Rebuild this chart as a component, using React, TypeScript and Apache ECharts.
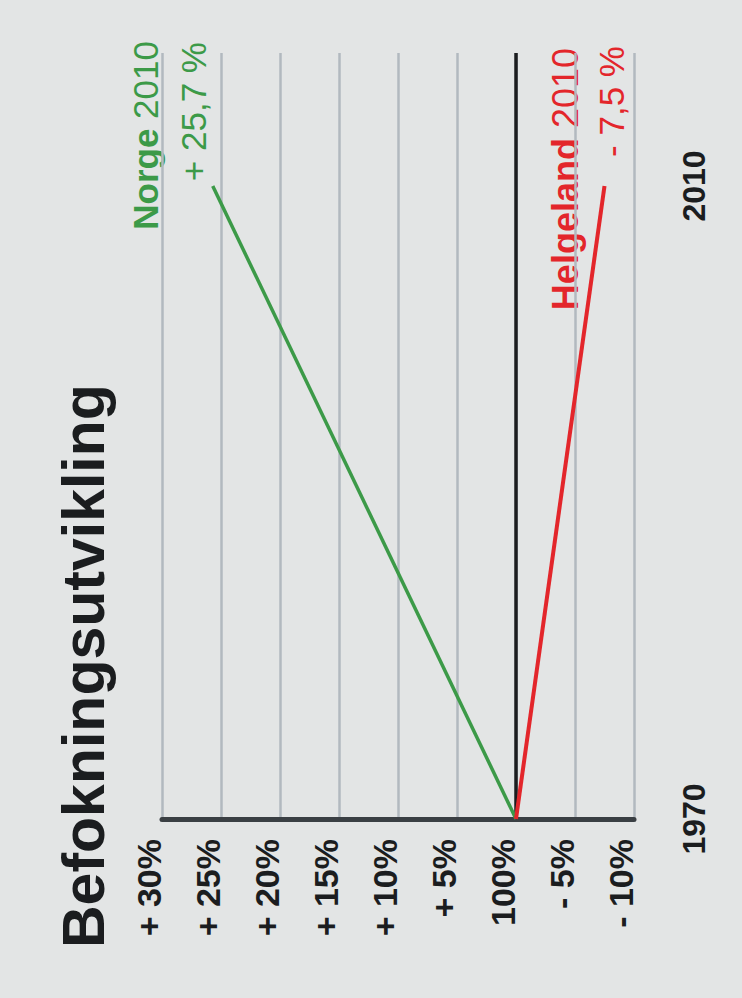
import React, { useEffect, useRef } from "react";
import * as echarts from "echarts";

// ---- data ----
const titleText = "Befokningsutvikling";
const years = [1970, 2010];
const norgeValues = [0, 25.7];
const helgelandValues = [0, -7.5];
const percentMin = -10;
const percentMax = 30;
const percentStep = 5;
const norgeLabel = ["Norge", "2010"];
const norgeChange = "+ 25,7 %";
const helgelandLabel = ["Helgeland", "2010"];
const helgelandChange = "- 7,5 %";

const FONT = '"Liberation Sans", Arial, Helvetica, sans-serif';
const GREEN = "#3c9a48";
const RED = "#e3262b";
const INK = "#1b1d1f";

function pctLabel(v: number): string {
  if (v > 0) return "+ " + v + "%";
  if (v === 0) return "100%";
  return "- " + -v + "%";
}

export default function App() {
  const ref = useRef<HTMLDivElement>(null);
  useEffect(() => {
    document.body.style.margin = "0";
    const chart = echarts.init(ref.current!, null, { renderer: "svg" });
    const option: any = {
      animation: false,
      backgroundColor: "#e3e5e5",
      grid: {
        left: 162,
        right: 108,
        top: 53,
        bottom: 179,
        containLabel: false,
        outerBoundsMode: "none",
      },
      xAxis: {
        type: "value",
        inverse: true,
        min: percentMin,
        max: percentMax,
        interval: percentStep,
        axisLine: { show: true, lineStyle: { color: "#3a3f43", width: 5 } },
        axisTick: { show: false },
        splitLine: { show: true, lineStyle: { color: "#b2b9bf", width: 2.5 } },
        axisLabel: {
          rotate: 90,
          margin: 20,
          verticalAlign: "bottom",
          lineHeight: 26,
          color: INK,
          fontFamily: FONT,
          fontWeight: "bold",
          fontSize: 34,
          formatter: (v: number) => pctLabel(v),
        },
      },
      yAxis: {
        type: "value",
        position: "right",
        min: 1970,
        max: 2018.4,
        interval: 10,
        axisLine: { show: false },
        axisTick: { show: false },
        splitLine: { show: false },
        axisLabel: {
          rotate: 90,
          margin: 44,
          color: INK,
          fontFamily: FONT,
          fontWeight: "bold",
          fontSize: 32,
          showMaxLabel: false,
          formatter: (v: number) => (years.indexOf(v) >= 0 ? String(v) : ""),
        },
      },
      series: [
        {
          name: "Norge",
          type: "line",
          data: years.map((y, i) => [norgeValues[i], y]),
          showSymbol: false,
          symbol: "none",
          lineStyle: { color: GREEN, width: 3.5 },
          z: 5,
          markLine: {
            silent: true,
            symbol: "none",
            label: { show: false },
            lineStyle: { color: INK, width: 3.5, type: "solid" },
            data: [{ xAxis: 0 }],
            z: 1,
          },
        },
        {
          name: "Helgeland",
          type: "line",
          data: years.map((y, i) => [helgelandValues[i], y]),
          showSymbol: false,
          symbol: "none",
          lineStyle: { color: RED, width: 4 },
          z: 6,
        },
      ],
      graphic: [
        {
          type: "text",
          x: 84,
          y: 948,
          rotation: Math.PI / 2,
          style: {
            text: titleText,
            fill: INK,
            fontFamily: FONT,
            fontWeight: "bold",
            fontSize: 59,
            align: "left",
            verticalAlign: "middle",
          },
        },
        {
          type: "text",
          x: 145,
          y: 41,
          rotation: Math.PI / 2,
          style: {
            text: "{b|" + norgeLabel[0] + "} {r|" + norgeLabel[1] + "}",
            fill: GREEN,
            fontFamily: FONT,
            fontSize: 35,
            align: "right",
            verticalAlign: "middle",
            rich: {
              b: { fill: GREEN, fontFamily: FONT, fontSize: 35, fontWeight: "bold" },
              r: { fill: GREEN, fontFamily: FONT, fontSize: 35, fontWeight: "normal" },
            },
          },
        },
        {
          type: "text",
          x: 193,
          y: 42,
          rotation: Math.PI / 2,
          style: {
            text: norgeChange,
            fill: GREEN,
            fontFamily: FONT,
            fontSize: 35,
            fontWeight: "normal",
            align: "right",
            verticalAlign: "middle",
          },
        },
        {
          type: "text",
          x: 565,
          y: 48,
          rotation: Math.PI / 2,
          style: {
            text: "{b|" + helgelandLabel[0] + "} {r|" + helgelandLabel[1] + "}",
            fill: RED,
            fontFamily: FONT,
            fontSize: 36,
            align: "right",
            verticalAlign: "middle",
            rich: {
              b: { fill: RED, fontFamily: FONT, fontSize: 36, fontWeight: "bold" },
              r: { fill: RED, fontFamily: FONT, fontSize: 36, fontWeight: "normal" },
            },
          },
        },
        {
          type: "text",
          x: 611,
          y: 46,
          rotation: Math.PI / 2,
          style: {
            text: helgelandChange,
            fill: RED,
            fontFamily: FONT,
            fontSize: 35,
            fontWeight: "normal",
            align: "right",
            verticalAlign: "middle",
          },
        },
      ],
    };
    chart.setOption(option);
    return () => chart.dispose();
  }, []);
  return <div ref={ref} style={{ width: 742, height: 998 }} />;
}
